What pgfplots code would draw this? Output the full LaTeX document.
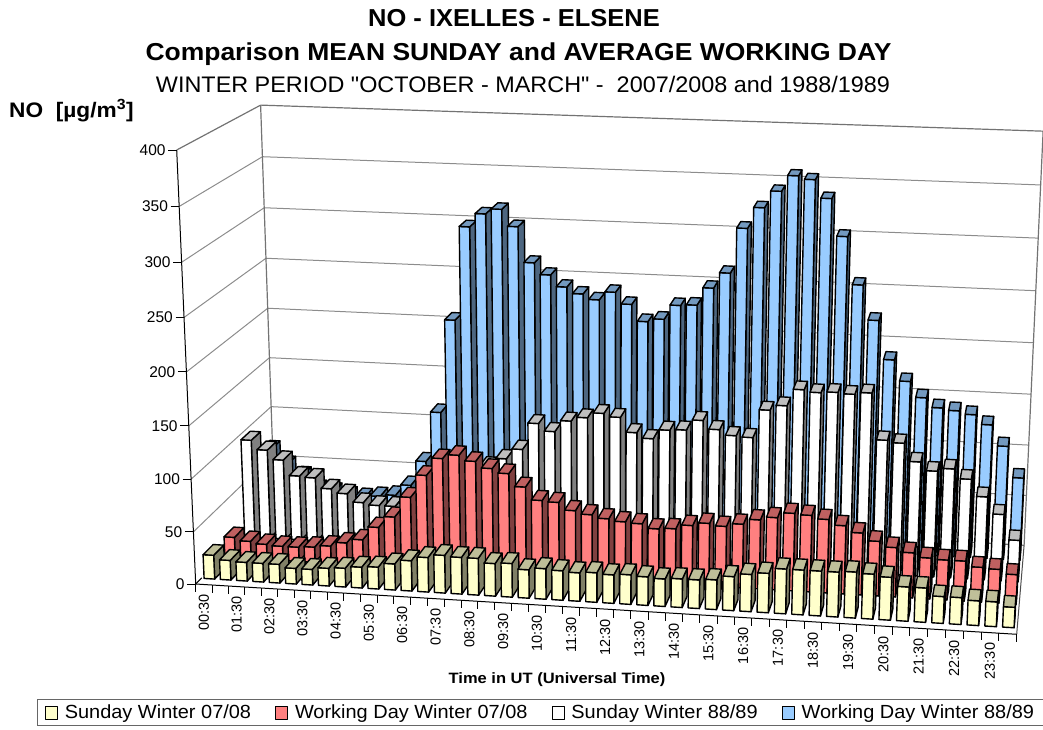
\documentclass[border=0pt]{standalone}
\usepackage{fontspec}
\setmainfont{Liberation Sans}[Ligatures=TeXOff]
\usepackage{pgfplots}
\usepackage{pgfplotstable}
\pgfplotsset{compat=1.18}
\pgfplotstableread{
i time yellow red white blue
0 00:30 23 20 97 70
1 01:00 19 17 88 55
2 01:30 18 15 79 45
3 02:00 18 14 64 32
4 02:30 18 14 63 30
5 03:00 15 15 53 27
6 03:30 15 17 49 26
7 04:00 17 21 41 28
8 04:30 18 25 39 30
9 05:00 20 38 39 41
10 05:30 21 49 45 66
11 06:00 25 69 60 116
12 06:30 29 91 72 208
13 07:00 33 108 80 299
14 07:30 36 112 84 312
15 08:00 35 107 84 317
16 08:30 35 101 92 301
17 09:00 31 97 102 267
18 09:30 32 85 128 256
19 10:00 27 73 121 245
20 10:30 29 72 132 239
21 11:00 28 65 136 234
22 11:30 27 62 141 242
23 12:00 28 59 138 231
24 12:30 27 57 124 215
25 13:00 28 56 119 218
26 13:30 27 52 128 232
27 14:00 26 53 129 233
28 14:30 27 57 139 250
29 15:00 27 60 131 265
30 15:30 28 58 126 308
31 16:00 32 61 125 328
32 16:30 35 66 152 344
33 17:00 37 69 157 359
34 17:30 42 74 173 356
35 18:00 42 73 171 339
36 18:30 42 70 172 304
37 19:00 42 65 171 259
38 19:30 43 59 173 226
39 20:00 42 52 129 189
40 20:30 40 47 127 169
41 21:00 32 43 110 154
42 21:30 32 39 102 145
43 22:00 25 38 105 143
44 22:30 25 38 96 140
45 23:00 23 33 80 131
46 23:30 23 32 64 111
47 24:00 19 28 40 81
}\datatable
\definecolor{yF}{HTML}{FFFFCC}\definecolor{yT}{HTML}{BFBF99}\definecolor{yS}{HTML}{808066}
\definecolor{rF}{HTML}{FF8080}\definecolor{rT}{HTML}{BF6060}\definecolor{rS}{HTML}{804040}
\definecolor{wF}{HTML}{FFFFFF}\definecolor{wT}{HTML}{BFBFBF}\definecolor{wS}{HTML}{808080}
\definecolor{bF}{HTML}{99CCFF}\definecolor{bT}{HTML}{7399BF}\definecolor{bS}{HTML}{4D6680}
% perspective of the box: u along time, w into the depth, t = value/400
\newcommand\pj[3]{%
  \pgfmathsetmacro\pjD{1-0.0456*(#1)+0.0958*(#2)-0.045*(#3)}%
  \pgfmathsetmacro\pjX{(195.7+774.7*(#1)+105.1*(#2)-26.95*(#3))/\pjD}%
  \pgfmathsetmacro\pjY{(584+21.4*(#1)-32.8*(#2)-440.75*(#3))/\pjD}}
\newcommand\pa[4]{\pj{#2}{#3}{#4}\expandafter\edef\csname P#1\endcsname{(\pjX,\pjY)}}
\newcommand\oneBar[6]{% index, front depth, value, front, side, top
  \pgfmathsetmacro\uA{(#1+0.175)/48}%
  \pgfmathsetmacro\uB{(#1+0.825)/48}%
  \pgfmathsetmacro\wB{#2+0.12}%
  \pgfmathsetmacro\tT{#3/400}%
  \pa{a}{\uA}{#2}{0}\pa{b}{\uB}{#2}{0}\pa{c}{\uB}{#2}{\tT}\pa{d}{\uA}{#2}{\tT}%
  \pa{e}{\uB}{\wB}{0}\pa{f}{\uB}{\wB}{\tT}\pa{g}{\uA}{\wB}{\tT}%
  \edef\temp{%
    \noexpand\addplot[fill=#5,forget plot] coordinates {\Pb\Pe\Pf\Pc} -- cycle;
    \noexpand\addplot[fill=#4,forget plot] coordinates {\Pa\Pb\Pc\Pd} -- cycle;
    \noexpand\addplot[fill=#6,forget plot] coordinates {\Pd\Pc\Pf\Pg} -- cycle;
  }\temp}
\newcommand\series[5]{%
  \pgfplotsforeachungrouped \ii in {0,...,47}{%
    \pgfplotstablegetelem{\ii}{#1}\of\datatable
    \edef\vv{\pgfplotsretval}%
    \oneBar{\ii}{#2}{\vv}{#3}{#4}{#5}}}
\newcommand\seg[7]{% color, width, u w t, u w t
  \pj{#3}{#4}{#5}\edef\xa{\pjX}\edef\ya{\pjY}%
  \pj{#6}{#7}{\segT}\edef\temp{\noexpand\addplot[draw=#1,line width=#2,forget plot] coordinates {(\xa,\ya)(\pjX,\pjY)};}\temp}
\newcommand\hs[2]{\scalebox{#1}[1]{#2}}
\tikzset{
  tl/.style={font=\fontsize{24.5}{28}\selectfont\bfseries,inner sep=0pt,anchor=base},
  tn/.style={font=\fontsize{22.5}{26}\selectfont,inner sep=0pt,anchor=base},
  ztick/.style={font=\fontsize{15.5}{17}\selectfont,anchor=east,inner sep=0pt},
  xt/.style={font=\fontsize{14.5}{16}\selectfont,anchor=east,rotate=90,inner sep=0pt},
  xl/.style={font=\fontsize{15}{17}\selectfont\bfseries,inner sep=0pt},
  yl/.style={font=\fontsize{21}{23}\selectfont\bfseries,inner sep=0pt,anchor=base west}}
\pgfplotsset{sw/.style={legend image code/.code={\draw[black,line width=0.9pt,fill=#1] (0pt,-6.5pt) rectangle (12pt,6.5pt);}}}
\begin{document}
\begin{tikzpicture}
\path[use as bounding box] (0,0) rectangle (1043pt,729pt);
\begin{axis}[
  at={(0,0)},anchor=south west,
  x=1pt,y=1pt,xmin=0,xmax=1043,ymin=0,ymax=729,y dir=reverse,
  axis lines=none,clip=false,
  cycle list={{black}},
  every axis plot/.append style={draw=black,line width=1.4pt,line join=round,mark=none},
  legend columns=4,
  legend style={at={(axis cs:540.5,712.5)},anchor=center,draw=black!60,line width=1pt,
    font=\fontsize{19}{20}\selectfont,inner xsep=7pt,inner ysep=3pt,
    /tikz/every even column/.append style={column sep=22pt},
    /tikz/every odd column/.append style={column sep=5pt}},
]
% walls: grid lines
\pgfplotsforeachungrouped \vv in {50,100,...,350}{%
  \pgfmathsetmacro\segT{\vv/400}%
  \seg{black!45}{1pt}{0}{0}{\segT}{0}{1}%
  \seg{black!45}{1pt}{0}{1}{\segT}{1}{1}}
\def\segT{1}
\seg{black!55}{1.2pt}{0}{0}{1}{0}{1}
\seg{black!55}{1.2pt}{0}{1}{1}{1}{1}
\def\segT{0}
\seg{black!55}{1.2pt}{0}{1}{0}{1}{1}
\def\segT{1}
\seg{black!55}{1.2pt}{0}{1}{0}{0}{1}
\seg{black!55}{1.2pt}{1}{1}{0}{1}{1}
% bars, back row to front row
\series{blue}{0.815}{bF}{bS}{bT}
\series{white}{0.565}{wF}{wS}{wT}
\series{red}{0.315}{rF}{rS}{rT}
\series{yellow}{0.065}{yF}{yS}{yT}
% floor edges and axes
\def\segT{0}
\seg{black}{1pt}{0}{0}{0}{1}{0}
\seg{black!70}{1pt}{1}{0}{0}{1}{1}
\seg{black}{1pt}{0}{0}{0}{0}{0.07}
\def\segT{1}
\seg{black}{1pt}{0}{0}{0}{0}{0}
% value ticks
\pgfplotsforeachungrouped \vv in {0,50,...,400}{%
  \pgfmathsetmacro\tT{\vv/400}%
  \pj{0}{0}{\tT}%
  \pgfmathsetmacro\xb{\pjX-8.5}%
  \pgfmathsetmacro\xc{\pjX-11}%
  \edef\temp{\noexpand\addplot[line width=1pt,forget plot] coordinates {(\xb,\pjY)(\pjX,\pjY)};
    \noexpand\node[ztick] at (axis cs:\xc,\pjY) {\vv};}\temp}
% time ticks and labels
\pgfplotsforeachungrouped \ii in {0,...,48}{%
  \pgfmathsetmacro\uA{\ii/48}%
  \pj{\uA}{0}{0}%
  \pgfmathsetmacro\yb{\pjY+8}%
  \edef\temp{\noexpand\addplot[line width=0.8pt,forget plot] coordinates {(\pjX,\pjY)(\pjX,\yb)};}\temp}
\pgfplotsforeachungrouped \ii in {0,2,...,46}{%
  \pgfmathsetmacro\uA{(\ii+0.5)/48}%
  \pj{\uA}{0}{0}%
  \pgfmathsetmacro\yb{\pjY+10}%
  \pgfplotstablegetelem{\ii}{time}\of\datatable
  \edef\temp{\noexpand\node[xt] at (axis cs:\pjX,\yb) {\pgfplotsretval};}\temp}
\node[tl] at (axis cs:514,26.7) {\hs{1.04}{NO - IXELLES - ELSENE}};
\node[tl] at (axis cs:518.5,60) {\hs{1.08}{Comparison MEAN SUNDAY and AVERAGE WORKING DAY}};
\node[tn] at (axis cs:523,92.7) {\hs{1.04}{WINTER PERIOD "OCTOBER - MARCH" -~~2007/2008 and 1988/1989}};
\node[yl] at (axis cs:9,117) {\hs{1.08}{NO~~[µg/m\textsuperscript{3}]}};
\node[xl] at (axis cs:557,680) {\hs{1.1}{Time in UT (Universal Time)}};
% legend
\addlegendimage{sw=yF}\addlegendentry{\hs{1.05}{Sunday Winter 07/08}}
\addlegendimage{sw=rF}\addlegendentry{\hs{1.05}{Working Day Winter 07/08}}
\addlegendimage{sw=wF}\addlegendentry{\hs{1.05}{Sunday Winter 88/89}}
\addlegendimage{sw=bF}\addlegendentry{\hs{1.05}{Working Day Winter 88/89}}
\end{axis}
\end{tikzpicture}
\end{document}
